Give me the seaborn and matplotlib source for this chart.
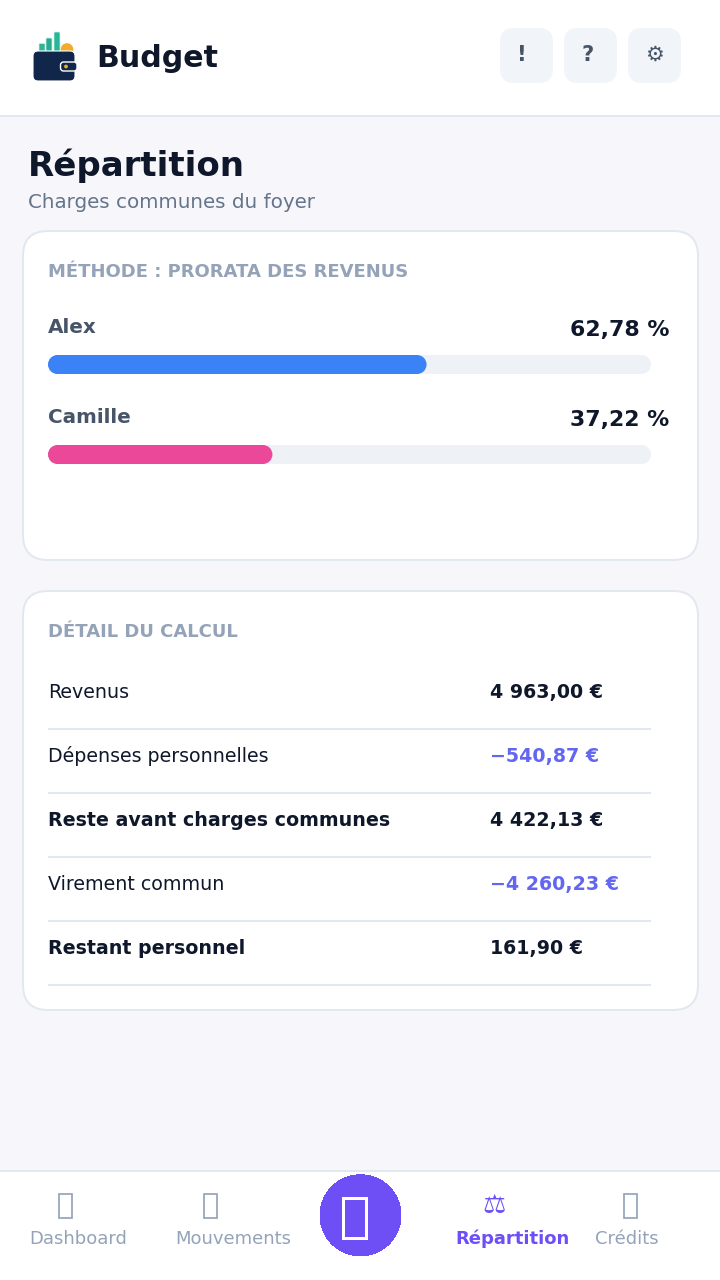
import matplotlib
matplotlib.use('Agg')
import matplotlib.pyplot as plt
from matplotlib.patches import FancyBboxPatch, Circle, Rectangle, Ellipse
import seaborn as sns
import pandas as pd

# data
people = ['Alex', 'Camille']
shares = [62.78, 37.22]
share_labels = ['62,78 %', '37,22 %']
bar_colors = ['#3b82f6', '#ec4899']

row_labels = ['Revenus', 'Dépenses personnelles', 'Reste avant charges communes',
              'Virement commun', 'Restant personnel']
row_values = ['4 963,00 €', '−540,87 €', '4 422,13 €', '−4 260,23 €', '161,90 €']
row_bold = [False, False, True, False, True]
row_negative = [False, True, False, True, False]

nav_labels = ['Dashboard', 'Mouvements', 'Répartition', 'Crédits']

DARK = '#0f172a'
SLATE = '#475569'
GREY = '#64748b'
MUTED = '#94a3b8'
BORDER = '#e2e8f0'
PURPLE = '#6d4ff5'

sns.set_theme(style='white')
plt.rcParams['font.family'] = ['DejaVu Sans']


def px(size):
    return size * 0.72


def rounded(ax, x0, y0, x1, y1, r, face, edge='none', lw=0, z=1):
    ax.add_patch(FancyBboxPatch((x0, y0), x1 - x0, y1 - y0,
                                boxstyle=f'round,pad=0,rounding_size={r}',
                                fc=face, ec=edge, lw=lw, zorder=z))


def box_icon(ax, x0, y0, x1, y1, color, width, z=7):
    # the icon font is missing in the reference too, it shows an empty box
    ax.add_patch(Rectangle((x0, y0), x1 - x0, y1 - y0, fc='none', ec=color,
                           lw=px(width), zorder=z))


fig = plt.figure(figsize=(7.2, 12.8), dpi=100, facecolor='#f6f6fb')
ui = fig.add_axes([0, 0, 1, 1])
ui.set_xlim(0, 720)
ui.set_ylim(1280, 0)
ui.axis('off')

# header
ui.add_patch(Rectangle((0, 0), 720, 115.5, fc='white', ec='none'))
ui.add_patch(Rectangle((0, 115), 720, 2, fc=BORDER, ec='none'))
ui.text(96, 67, 'Budget', fontsize=px(30), fontweight='bold', color=DARK)

# wallet logo
for x0, top, col in [(39, 43.5, '#2bb596'), (46, 38, '#26ad90'), (54, 32, '#25b797')]:
    rounded(ui, x0, top, x0 + 6, 56, 1, col, edge='#d5efe8', lw=0.5, z=2)
ui.add_patch(Circle((67, 49.5), 6.3, fc='#f0ac2a', ec='none', zorder=2))
rounded(ui, 33, 51, 75, 81, 5, '#10264a', edge='white', lw=0.8, z=3)
rounded(ui, 60.5, 62, 77, 71, 3, '#10264a', edge='white', lw=1, z=4)
ui.add_patch(Circle((66, 66.5), 1.9, fc='#f0ac2a', ec='none', zorder=5))

# header buttons
for x0, glyph, tx in zip([500, 564, 628], ['!', '?', '\u2699'], [522, 587.5, 654.5]):
    rounded(ui, x0, 28, x0 + 53, 83, 14, '#f1f5f9')
    ui.text(tx, 61, glyph, fontsize=px(21), fontweight='bold', color=SLATE, ha='center')

# page title
ui.text(28, 176, 'Répartition', fontsize=px(34), fontweight='bold', color=DARK)
ui.text(28, 208, 'Charges communes du foyer', fontsize=px(19.92), color=GREY)

# cards
rounded(ui, 23, 231, 698, 560, 25, 'white', edge=BORDER, lw=1.4)
rounded(ui, 23, 591, 698, 1010, 25, 'white', edge=BORDER, lw=1.4)

ui.text(48, 277, 'MÉTHODE : PRORATA DES REVENUS', fontsize=px(18), fontweight='bold', color=MUTED)
ui.text(48, 637, 'DÉTAIL DU CALCUL', fontsize=px(18), fontweight='bold', color=MUTED)

for name, label, base in zip(people, share_labels, [333, 423]):
    ui.text(48, base, name, fontsize=px(20), fontweight='bold', color=SLATE)
    ui.text(669, base + 3, label, fontsize=px(22), fontweight='bold', color=DARK, ha='right')

# share bars, axes spans the pixels of the two tracks
bars = fig.add_axes([48 / 720, 1 - 464 / 1280, 603 / 720, 109 / 1280], facecolor='none')
df = pd.DataFrame({'person': people, 'share': shares})
sns.barplot(data=df, x='share', y='person', hue='person', palette=bar_colors,
            saturation=1, width=19 / 90, linewidth=0, legend=False, ax=bars, zorder=3)
bars.set_xlim(0, 100)
bars.set_ylim(1 + 9.5 / 90, -9.5 / 90)
bars.axis('off')

# pill ends: shorten seaborn's rectangles and cap them with ellipses
rx = 9.5 * 100 / 603
for patch in list(bars.patches):
    x, y, w, h = patch.get_x(), patch.get_y(), patch.get_width(), patch.get_height()
    color = patch.get_facecolor()
    cy = y + h / 2
    patch.set_x(x + rx)
    patch.set_width(w - 2 * rx)
    for cx in [x + rx, x + w - rx]:
        bars.add_patch(Ellipse((cx, cy), 2 * rx, h, fc=color, ec='none', zorder=3))
    bars.add_patch(Rectangle((rx, y), 100 - 2 * rx, h, fc='#eef1f6', ec='none', zorder=1))
    for cx in [rx, 100 - rx]:
        bars.add_patch(Ellipse((cx, cy), 2 * rx, h, fc='#eef1f6', ec='none', zorder=1))

# detail rows
for i, (label, value) in enumerate(zip(row_labels, row_values)):
    base = 698 + 64 * i
    weight = 'bold' if row_bold[i] else 'normal'
    ui.text(48, base, label, fontsize=px(19), fontweight=weight, color=DARK)
    ui.text(490, base, value, fontsize=px(19), fontweight='bold',
            color='#6366f1' if row_negative[i] else DARK)
    ui.plot([48, 651], [base + 31, base + 31], color=BORDER, lw=1.4, solid_capstyle='butt')

# bottom nav
ui.add_patch(Rectangle((0, 1170), 720, 110, fc='white', ec='none', zorder=6))
ui.add_patch(Rectangle((0, 1170), 720, 2, fc=BORDER, ec='none', zorder=6))
nav_x = [78.5, 233, 512.5, 627]
for x, label in zip(nav_x, nav_labels):
    active = label == 'Répartition'
    ui.text(x, 1244.5, label, fontsize=px(18), color=PURPLE if active else MUTED, ha='center', zorder=7,
            fontweight='bold' if active else 'normal')
ui.text(494, 1213, '\u2696', fontsize=px(26), color=PURPLE, ha='center', zorder=7)
for x0 in [59, 204, 624]:
    box_icon(ui, x0, 1194, x0 + 13, 1218, MUTED, 1.7)
ui.add_patch(Circle((360.5, 1215.3), 40.5, fc=PURPLE, ec='none', zorder=7, antialiased=False))
box_icon(ui, 343, 1198, 365.5, 1238, 'white', 3, z=8)

fig.savefig('out.png', dpi=100, facecolor=fig.get_facecolor())
